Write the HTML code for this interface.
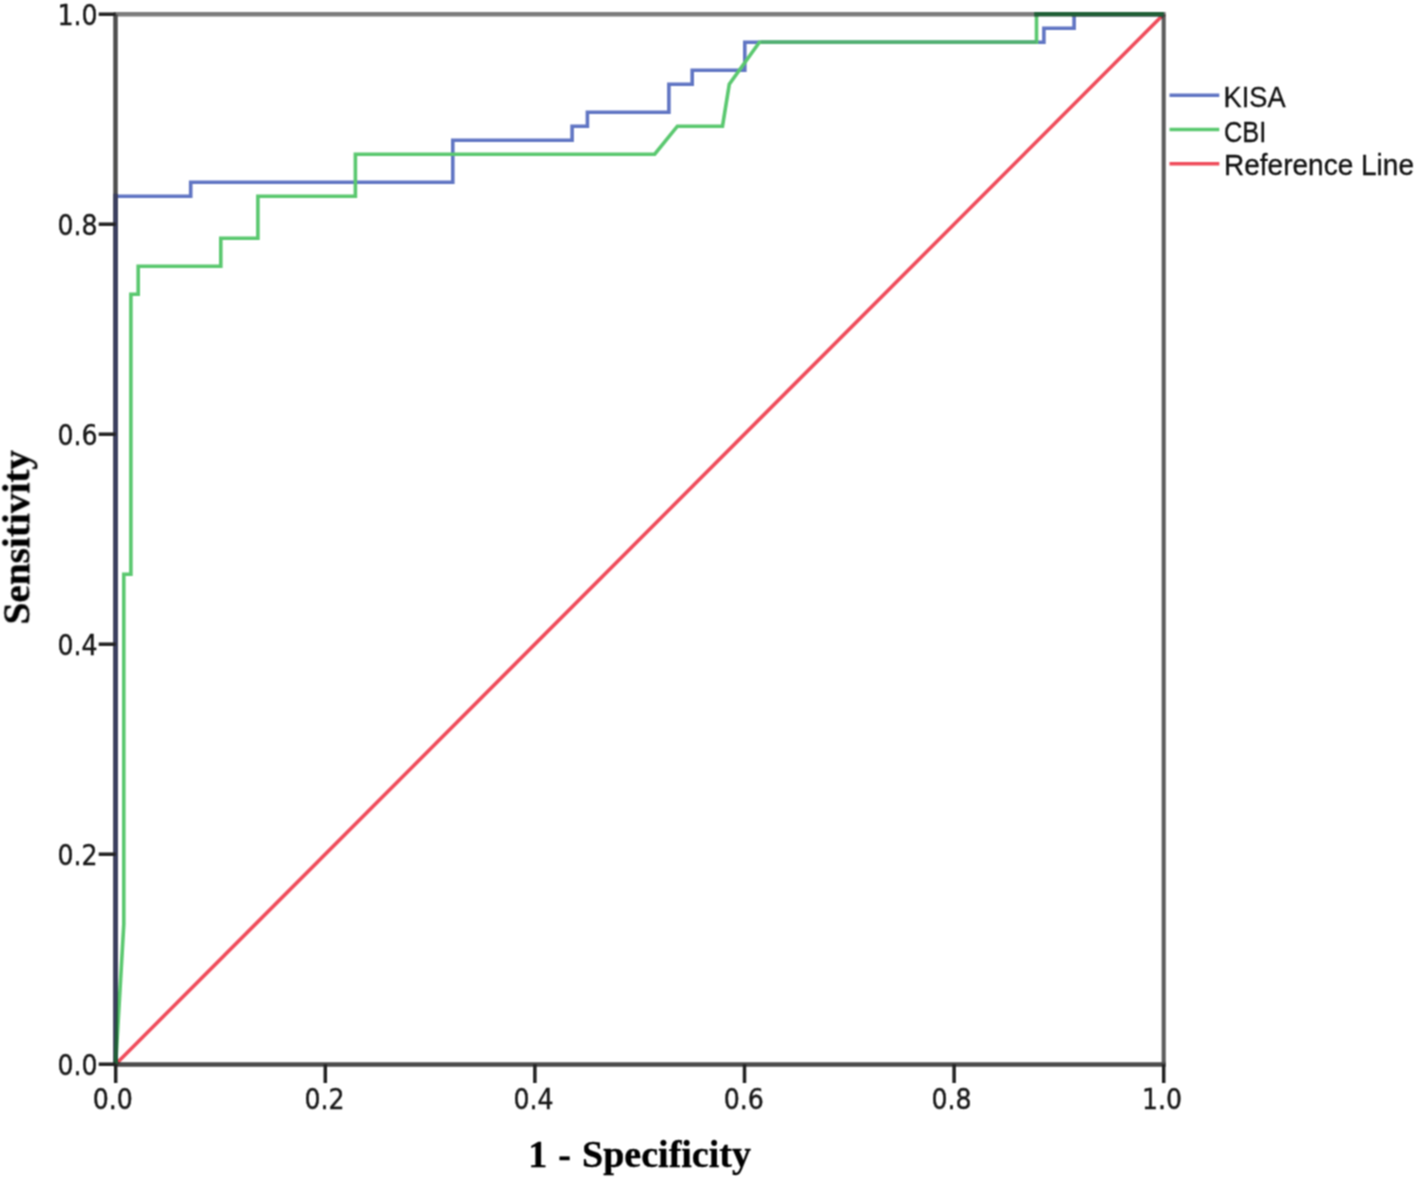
<!DOCTYPE html>
<html lang="en">
<head>
<meta charset="utf-8">
<title>ROC Curve</title>
<style>
html,body{margin:0;padding:0;background:#fff;}
body{width:1417px;height:1179px;overflow:hidden;}
svg{display:block;}
.tick{font-family:"DejaVu Sans Condensed","DejaVu Sans","Liberation Sans",sans-serif;font-stretch:condensed;font-size:28px;fill:#161616;stroke:#161616;stroke-width:0.4px;stroke-linejoin:round;}
.leg{font-family:"Liberation Sans",sans-serif;font-size:29.5px;fill:#121212;stroke:#121212;stroke-width:0.35px;stroke-linejoin:round;}
.ttl{font-family:"Liberation Serif",serif;font-weight:bold;font-size:38px;fill:#000;stroke:#000;stroke-width:0.35px;stroke-linejoin:round;}
</style>
</head>
<body>
<svg width="1417" height="1179" viewBox="0 0 1417 1179">
<defs><filter id="soft" filterUnits="userSpaceOnUse" x="0" y="0" width="1417" height="1179" color-interpolation-filters="sRGB"><feConvolveMatrix order="3" kernelMatrix="0.0625 0.1250 0.0625 0.1250 0.2500 0.1250 0.0625 0.1250 0.0625" divisor="1" edgeMode="none" preserveAlpha="false"/></filter>
<clipPath id="frameclip">
<rect x="113.25" y="11.95" width="4.5" height="1054.7"/>
<rect x="113.25" y="11.95" width="1052.7" height="4.5"/>
<rect x="1161.65" y="11.95" width="4.1" height="1054.7"/>
<rect x="113.25" y="1062.15" width="1052.7" height="4.5"/>
</clipPath></defs>
<rect x="0" y="0" width="1417" height="1179" fill="#ffffff"/>

<g fill="none" stroke-linejoin="miter" stroke-linecap="butt" filter="url(#soft)">
<line x1="115.7" y1="1064.2" x2="1163.7" y2="14.2" stroke="#ef4c5b" stroke-width="3.6"/>
<polyline points="115.7,1064.2 115.7,196.2 190.7,196.2 190.7,182.2 452.8,182.2 452.8,140.2 572.1,140.2 572.1,126.2 587.4,126.2 587.4,112.2 668.9,112.2 668.9,84.2 692.2,84.2 692.2,70.2 744.8,70.2 744.8,42.2 1043.9,42.2 1043.9,28.2 1074.1,28.2 1074.1,14.2 1163.7,14.2" stroke="#6075c3" stroke-width="3.6"/>
<polyline points="115.7,1064.2 123.8,924.2 123.8,574.2 130.9,574.2 130.9,294.2 138.2,294.2 138.2,266.2 220.8,266.2 220.8,238.2 257.9,238.2 257.9,196.2 355.4,196.2 355.4,154.2 654.7,154.2 677.4,126.2 722.5,126.2 729.3,84.2 759.4,42.2 1036.5,42.2 1036.5,14.2 1163.7,14.2" stroke="#5ac86f" stroke-width="3.6"/>
<line x1="761" y1="42.2" x2="1036.5" y2="42.2" stroke="#52b072" stroke-width="3.6"/>
<line x1="113.7" y1="14.2" x2="1165.7" y2="14.2" stroke="#7c7c7c" stroke-width="4.5"/>
<line x1="1163.7" y1="14.2" x2="1163.7" y2="1064.2" stroke="#5c5c5c" stroke-width="4.1"/>
<line x1="115.5" y1="14.2" x2="115.5" y2="1064.2" stroke="#4d4d4d" stroke-width="4.5"/>
<line x1="113.7" y1="1064.4" x2="1165.7" y2="1064.4" stroke="#4a4a4a" stroke-width="4.5"/>
<g clip-path="url(#frameclip)">
<line x1="115.7" y1="1064.2" x2="1163.7" y2="14.2" stroke="#5a2426" stroke-width="3.9"/>
<polyline points="115.7,1064.2 115.7,196.2 190.7,196.2 190.7,182.2 452.8,182.2 452.8,140.2 572.1,140.2 572.1,126.2 587.4,126.2 587.4,112.2 668.9,112.2 668.9,84.2 692.2,84.2 692.2,70.2 744.8,70.2 744.8,42.2 1043.9,42.2 1043.9,28.2 1074.1,28.2 1074.1,14.2 1163.7,14.2" stroke="#3a3e5e" stroke-width="5"/>
<polyline points="115.7,1064.2 123.8,924.2 123.8,574.2 130.9,574.2 130.9,294.2 138.2,294.2 138.2,266.2 220.8,266.2 220.8,238.2 257.9,238.2 257.9,196.2 355.4,196.2 355.4,154.2 654.7,154.2 677.4,126.2 722.5,126.2 729.3,84.2 759.4,42.2 1036.5,42.2 1036.5,14.2 1163.7,14.2" stroke="#1f5f36" stroke-width="4.6"/>
</g>
<line x1="115.7" y1="1064.2" x2="115.7" y2="1083.0" stroke="#222222" stroke-width="3.5"/>
<line x1="325.3" y1="1064.2" x2="325.3" y2="1083.0" stroke="#222222" stroke-width="3.5"/>
<line x1="534.9" y1="1064.2" x2="534.9" y2="1083.0" stroke="#222222" stroke-width="3.5"/>
<line x1="744.5" y1="1064.2" x2="744.5" y2="1083.0" stroke="#222222" stroke-width="3.5"/>
<line x1="954.1" y1="1064.2" x2="954.1" y2="1083.0" stroke="#222222" stroke-width="3.5"/>
<line x1="1163.7" y1="1064.2" x2="1163.7" y2="1083.0" stroke="#222222" stroke-width="3.5"/>
<line x1="98.7" y1="1064.2" x2="115.7" y2="1064.2" stroke="#222222" stroke-width="3.5"/>
<line x1="98.7" y1="854.2" x2="115.7" y2="854.2" stroke="#222222" stroke-width="3.5"/>
<line x1="98.7" y1="644.2" x2="115.7" y2="644.2" stroke="#222222" stroke-width="3.5"/>
<line x1="98.7" y1="434.2" x2="115.7" y2="434.2" stroke="#222222" stroke-width="3.5"/>
<line x1="98.7" y1="224.2" x2="115.7" y2="224.2" stroke="#222222" stroke-width="3.5"/>
<line x1="98.7" y1="14.2" x2="115.7" y2="14.2" stroke="#222222" stroke-width="3.5"/>
</g>
<g fill="none" stroke-width="3.6" filter="url(#soft)">
<line x1="1169.5" y1="95.2" x2="1219.3" y2="95.2" stroke="#6075c3"/>
<line x1="1169.5" y1="129.5" x2="1219.3" y2="129.5" stroke="#5ac86f"/>
<line x1="1169.5" y1="163.8" x2="1219.3" y2="163.8" stroke="#ef4c5b"/>
</g>
<g filter="url(#soft)">
<text class="leg" style="font-size:29.2px" x="1223.6" y="106.8" textLength="62" lengthAdjust="spacingAndGlyphs">KISA</text>
<text class="leg" x="1224" y="142.4" textLength="42.3" lengthAdjust="spacingAndGlyphs">CBI</text>
<text class="leg" style="font-size:28.6px" x="1224" y="175.3" textLength="190" lengthAdjust="spacingAndGlyphs">Reference Line</text>
</g>
<g filter="url(#soft)">
<text class="tick" text-anchor="middle" x="112.8" y="1108.5">0.0</text>
<text class="tick" text-anchor="middle" x="324.4" y="1108.5">0.2</text>
<text class="tick" text-anchor="middle" x="533.4" y="1108.5">0.4</text>
<text class="tick" text-anchor="middle" x="743.8" y="1108.5">0.6</text>
<text class="tick" text-anchor="middle" x="951.6" y="1108.5">0.8</text>
<text class="tick" text-anchor="middle" x="1162.0" y="1108.5">1.0</text>
<text class="tick" text-anchor="end" x="97.5" y="1075.1">0.0</text>
<text class="tick" text-anchor="end" x="97.5" y="865.1">0.2</text>
<text class="tick" text-anchor="end" x="97.5" y="655.1">0.4</text>
<text class="tick" text-anchor="end" x="97.5" y="445.1">0.6</text>
<text class="tick" text-anchor="end" x="97.5" y="235.1">0.8</text>
<text class="tick" text-anchor="end" x="97.5" y="25.1">1.0</text>
</g>
<g filter="url(#soft)">
<text class="ttl" text-anchor="middle" x="639.6" y="1167" style="word-spacing:1.6px">1 - Specificity</text>
<text class="ttl" text-anchor="middle" transform="translate(29.3,537.2) rotate(-90)" textLength="174.5" lengthAdjust="spacingAndGlyphs">Sensitivity</text>
</g>
</svg>
</body>
</html>
